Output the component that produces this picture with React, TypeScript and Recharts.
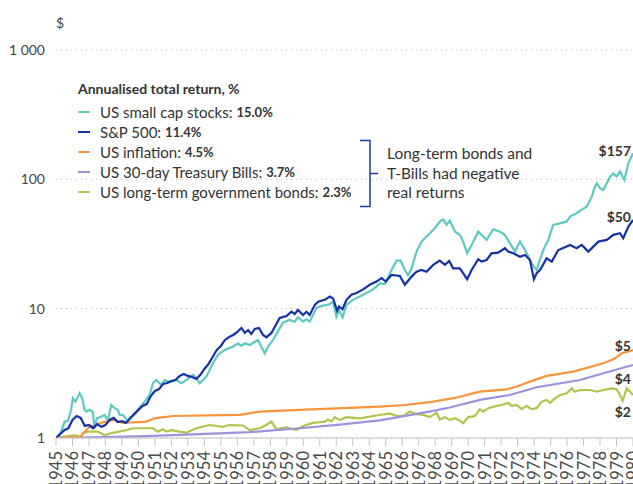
import { CartesianGrid, Line, LineChart, XAxis, YAxis } from 'recharts'

const yearTicks = [
  1945, 1946, 1947, 1948, 1949, 1950, 1951, 1952, 1953, 1954, 1955, 1956, 1957, 1958, 1959, 1960, 1961, 1962,
  1963, 1964, 1965, 1966, 1967, 1968, 1969, 1970, 1971, 1972, 1973, 1974, 1975, 1976, 1977, 1978, 1979, 1980,
]
const valueTicks = [1, 10, 100, 1000]

const smallCapYears = [
  1945.0, 1945.32, 1945.52, 1945.72, 1945.92, 1946.02, 1946.18, 1946.43, 1946.59, 1946.73,
  1946.87, 1947.03, 1947.23, 1947.34, 1947.48, 1947.74, 1947.94, 1948.15, 1948.35, 1948.55,
  1948.75, 1948.86, 1949.06, 1949.36, 1949.87, 1950.37, 1950.68, 1950.88, 1951.08, 1951.39,
  1951.59, 1951.89, 1952.3, 1952.6, 1952.91, 1953.31, 1953.51, 1953.71, 1954.12, 1954.52,
  1954.82, 1955.05, 1955.33, 1955.73, 1956.04, 1956.24, 1956.45, 1956.75, 1957.25, 1957.46,
  1957.66, 1957.86, 1958.16, 1958.77, 1959.18, 1959.48, 1959.68, 1959.98, 1960.19, 1960.39,
  1960.8, 1961.1, 1961.5, 1961.81, 1962.01, 1962.17, 1962.38, 1962.62, 1963.02, 1963.63,
  1964.24, 1964.64, 1964.95, 1965.35, 1965.66, 1965.9, 1966.16, 1966.36, 1966.57, 1966.87,
  1967.17, 1967.48, 1967.98, 1968.28, 1968.48, 1968.69, 1968.89, 1969.2, 1969.5, 1969.7,
  1969.94, 1970.21, 1970.61, 1970.91, 1971.12, 1971.52, 1971.93, 1972.23, 1972.54, 1972.84,
  1973.14, 1973.45, 1973.75, 1973.99, 1974.16, 1974.31, 1974.56, 1974.86, 1975.16, 1975.57,
  1975.98, 1976.18, 1976.58, 1976.79, 1977.19, 1977.5, 1977.64, 1977.8, 1978.0, 1978.2,
  1978.61, 1978.81, 1979.01, 1979.21, 1979.47, 1979.72, 1980.0,
]
const smallCapValues = [
  1.0, 1.12, 1.34, 1.36, 1.65, 2.03, 1.91, 2.22, 2.03, 1.65,
  1.6, 1.65, 1.6, 1.19, 1.42, 1.46, 1.51, 1.38, 1.8, 1.7,
  1.65, 1.51, 1.51, 1.34, 1.6, 1.91, 2.15, 2.65, 2.81, 2.57,
  2.81, 2.72, 2.81, 2.65, 2.81, 3.07, 2.9, 2.65, 2.98, 3.78,
  4.39, 4.62, 4.85, 5.08, 5.4, 5.15, 5.4, 5.24, 5.73, 5.08,
  4.52, 5.08, 5.73, 7.79, 8.18, 7.93, 8.58, 7.93, 8.28, 7.93,
  10.1, 10.5, 10.7, 11.3, 8.67, 9.77, 8.58, 10.7, 11.7, 12.8,
  14.1, 15.7, 15.5, 19.9, 23.5, 23.5, 19.9, 18.2, 20.5, 27.6,
  33.0, 36.1, 41.9, 47.1, 49.1, 44.4, 47.9, 39.4, 37.2, 33.0,
  26.8, 31.1, 39.4, 36.1, 34.0, 41.1, 39.4, 37.2, 32.0, 27.6,
  33.0, 28.4, 23.8, 21.1, 19.9, 23.1, 28.4, 34.0, 44.4, 45.7,
  47.1, 51.5, 54.7, 57.3, 61.5, 73.5, 84.3, 93.3, 85.3, 82.8,
  105, 111, 105, 115, 98.9, 133, 159,
]

const sp500Years = [
  1945.0, 1945.25, 1945.5, 1945.75, 1946.0, 1946.25, 1946.5, 1946.75, 1947.0, 1947.25,
  1947.5, 1947.75, 1948.0, 1948.25, 1948.5, 1948.75, 1949.0, 1949.25, 1949.5, 1949.75,
  1950.0, 1950.25, 1950.5, 1950.75, 1951.0, 1951.25, 1951.5, 1951.75, 1952.0, 1952.25,
  1952.5, 1952.75, 1953.0, 1953.25, 1953.5, 1953.75, 1954.0, 1954.25, 1954.5, 1954.75,
  1955.0, 1955.25, 1955.5, 1955.75, 1956.0, 1956.25, 1956.45, 1956.65, 1956.85, 1957.05,
  1957.31, 1957.56, 1957.76, 1958.07, 1958.33, 1958.57, 1958.98, 1959.28, 1959.48, 1959.68,
  1959.98, 1960.19, 1960.39, 1960.7, 1960.9, 1961.3, 1961.61, 1961.81, 1962.05, 1962.17,
  1962.38, 1962.62, 1962.92, 1963.23, 1963.63, 1964.03, 1964.44, 1964.75, 1965.01, 1965.35,
  1965.86, 1966.16, 1966.57, 1966.87, 1967.17, 1967.48, 1967.88, 1968.28, 1968.59, 1968.85,
  1969.09, 1969.5, 1969.94, 1970.21, 1970.61, 1970.82, 1971.12, 1971.42, 1971.82, 1972.23,
  1972.43, 1972.74, 1973.14, 1973.45, 1973.75, 1973.99, 1974.16, 1974.36, 1974.76, 1975.07,
  1975.47, 1975.87, 1976.18, 1976.58, 1976.89, 1977.29, 1977.9, 1978.41, 1978.81, 1979.21,
  1979.41, 1979.72, 1980.0,
]
const sp500Values = [
  1.0, 1.07, 1.15, 1.19, 1.38, 1.48, 1.43, 1.24, 1.26, 1.19,
  1.28, 1.22, 1.26, 1.38, 1.43, 1.33, 1.35, 1.31, 1.43, 1.53,
  1.65, 1.77, 1.83, 2.11, 2.31, 2.39, 2.62, 2.66, 2.76, 2.81,
  3.02, 3.13, 3.02, 2.96, 2.86, 3.07, 3.42, 3.73, 4.23, 4.79,
  5.15, 5.73, 6.04, 6.26, 6.61, 7.1, 6.49, 6.84, 6.37, 6.97,
  7.1, 6.26, 6.01, 6.49, 7.48, 8.47, 8.78, 9.48, 9.1, 9.77,
  8.94, 9.48, 8.94, 10.7, 11.3, 11.7, 12.4, 12.0, 9.65, 10.4,
  9.89, 11.7, 12.8, 13.2, 14.1, 15.3, 16.2, 17.2, 16.2, 18.2,
  17.9, 15.3, 17.7, 19.3, 19.9, 19.3, 21.8, 23.5, 21.8, 23.4,
  20.5, 20.5, 16.9, 19.9, 24.1, 23.1, 23.8, 26.8, 27.1, 29.3,
  27.6, 26.8, 25.2, 26.0, 23.8, 16.9, 18.8, 19.9, 24.5, 23.1,
  28.4, 29.9, 31.1, 29.3, 31.1, 27.6, 33.0, 34.0, 37.2, 38.3,
  35.0, 43.1, 48.5,
]

const inflationYears = [
  1945.0, 1946.43, 1946.73, 1947.03, 1947.64, 1948.45, 1949.06, 1950.48, 1950.98, 1952.09, 1956.14,
  1957.36, 1959.78, 1964.64, 1966.2, 1967.88, 1969.2, 1970.71, 1972.33, 1972.94, 1973.75, 1974.76,
  1976.38, 1978.2, 1978.81, 1979.32, 1980.0,
]
const inflationValues = [
  1.0, 1.01, 1.11, 1.22, 1.3, 1.38, 1.31, 1.34, 1.42, 1.48, 1.51,
  1.6, 1.65, 1.75, 1.8, 1.91, 2.04, 2.28, 2.38, 2.49, 2.73, 3.02,
  3.26, 3.78, 4.06, 4.52, 4.79,
]

const tBillYears = [
  1945.0, 1950.0, 1953.71, 1956.75, 1959.78, 1962.21, 1964.64, 1967.88, 1968.89, 1970.71, 1972.53,
  1974.16, 1976.79, 1978.2, 1980.0,
]
const tBillValues = [1.0, 1.03, 1.07, 1.11, 1.19, 1.27, 1.37, 1.62, 1.72, 1.97, 2.15, 2.47, 2.81, 3.17, 3.67]

const bondYears = [
  1945.0, 1945.82, 1946.23, 1946.53, 1946.63, 1946.93, 1947.54, 1947.94, 1948.35, 1949.26,
  1949.66, 1950.88, 1951.18, 1951.48, 1951.69, 1951.99, 1952.5, 1952.91, 1953.51, 1954.32,
  1955.13, 1955.53, 1956.34, 1956.75, 1957.36, 1957.76, 1958.07, 1958.37, 1958.98, 1959.58,
  1959.98, 1960.59, 1961.3, 1961.5, 1961.71, 1961.91, 1962.21, 1962.62, 1963.43, 1964.24,
  1965.25, 1965.66, 1966.06, 1966.46, 1966.87, 1967.27, 1967.68, 1968.08, 1968.28, 1968.59,
  1968.89, 1969.2, 1969.5, 1969.7, 1970.0, 1970.41, 1970.71, 1970.92, 1971.22, 1971.73,
  1972.03, 1972.43, 1972.64, 1972.94, 1973.25, 1973.55, 1973.85, 1974.16, 1974.46, 1974.76,
  1974.96, 1975.27, 1975.57, 1975.98, 1976.28, 1976.48, 1976.79, 1977.39, 1977.8, 1978.2,
  1978.71, 1979.01, 1979.21, 1979.37, 1979.62, 1979.82, 1980.0,
]
const bondValues = [
  1.0, 1.04, 1.05, 1.01, 1.09, 1.12, 1.12, 1.05, 1.09, 1.15,
  1.19, 1.19, 1.12, 1.17, 1.12, 1.15, 1.12, 1.1, 1.19, 1.26,
  1.22, 1.26, 1.25, 1.15, 1.19, 1.26, 1.34, 1.17, 1.21, 1.15,
  1.24, 1.31, 1.34, 1.39, 1.34, 1.45, 1.38, 1.45, 1.42, 1.48,
  1.55, 1.48, 1.48, 1.6, 1.53, 1.51, 1.45, 1.57, 1.39, 1.45,
  1.38, 1.42, 1.36, 1.3, 1.45, 1.48, 1.67, 1.6, 1.7, 1.77,
  1.8, 1.87, 1.77, 1.8, 1.67, 1.77, 1.67, 1.7, 1.91, 1.97,
  1.87, 2.03, 2.15, 2.22, 2.42, 2.28, 2.35, 2.35, 2.28, 2.35,
  2.42, 2.38, 2.15, 1.94, 2.42, 2.28, 2.15,
]

const toPoints = (years: number[], values: number[]) => years.map((t, i) => ({ t, v: values[i] }))

// legend order
const series = [
  { name: 'US small cap stocks', ret: '15.0%', color: '#5dc9c2', data: toPoints(smallCapYears, smallCapValues) },
  { name: 'S&P 500', ret: '11.4%', color: '#1432a6', data: toPoints(sp500Years, sp500Values) },
  { name: 'US inflation', ret: '4.5%', color: '#f8943c', data: toPoints(inflationYears, inflationValues) },
  { name: 'US 30-day Treasury Bills', ret: '3.7%', color: '#9b91de', data: toPoints(tBillYears, tBillValues) },
  { name: 'US long-term government bonds', ret: '2.3%', color: '#b3c34b', data: toPoints(bondYears, bondValues) },
]
const drawOrder = [4, 3, 2, 0, 1]

const endLabels = [
  { text: '$157', y: 150 },
  { text: '$50', y: 216 },
  { text: '$5', y: 345 },
  { text: '$4', y: 378 },
  { text: '$2', y: 411 },
]

const fmtValue = (v: number) => (v === 1000 ? '1 000' : String(v))

function YearTick({ x, y, payload }: any) {
  return (
    <text
      x={x}
      y={y}
      transform={`rotate(-90 ${x} ${y})`}
      textAnchor="end"
      dominantBaseline="central"
      fill="#4a4a4a"
      fontSize={16.5}
      fontFamily="Lato, sans-serif"
    >
      {payload.value}
    </text>
  )
}

const textColor = '#333'
const bracketColor = '#1b3aa3'

export default function App() {
  return (
    <div
      style={{
        position: 'absolute',
        left: 0,
        top: 0,
        width: 633,
        height: 484,
        overflow: 'hidden',
        background: '#fff',
        fontFamily: 'Lato, sans-serif',
        color: textColor,
      }}
    >
      <LineChart width={660} height={520} margin={{ top: 50, right: 27, bottom: 0, left: 0 }}>
        <CartesianGrid vertical={false} stroke="#b8b8b8" strokeDasharray="1 4" />
        <XAxis
          type="number"
          dataKey="t"
          domain={[1945, 1980]}
          ticks={yearTicks}
          interval={0}
          height={82}
          tickSize={8}
          tickMargin={5}
          stroke="#c4c4c4"
          tick={(p: any) => <YearTick {...p} />}
          allowDataOverflow
        />
        <YAxis
          type="number"
          scale="log"
          domain={[1, 1000]}
          ticks={valueTicks}
          width={56}
          axisLine={false}
          tickLine={false}
          tickSize={0}
          tickMargin={11}
          tickFormatter={fmtValue}
          tick={{ fontSize: 14, fill: '#444', fontFamily: 'Lato, sans-serif' }}
          allowDataOverflow
        />
        {drawOrder.map((i) => (
          <Line
            key={series[i].name}
            data={series[i].data}
            dataKey="v"
            type="linear"
            stroke={series[i].color}
            strokeWidth={2.2}
            dot={false}
            isAnimationActive={false}
          />
        ))}
      </LineChart>

      <div style={{ position: 'absolute', left: 56, top: 22, transform: 'translateY(-50%)', fontSize: 14, color: '#444' }}>$</div>

      <div style={{ position: 'absolute', left: 78, top: 88, transform: 'translateY(-50%)', fontSize: 14, fontWeight: 700 }}>
        Annualised total return, %
      </div>
      {series.map((s, i) => (
        <div
          key={s.name}
          style={{
            position: 'absolute',
            left: 78,
            top: 111.7 + i * 20,
            transform: 'translateY(-50%)',
            display: 'flex',
            alignItems: 'center',
            whiteSpace: 'nowrap',
            fontSize: 15,
          }}
        >
          <span style={{ display: 'inline-block', width: 12, height: 2, background: s.color, marginRight: 10 }} />
          <span>{s.name}: </span>
          <span style={{ fontWeight: 700, fontSize: 13, marginLeft: 4 }}>{s.ret}</span>
        </div>
      ))}

      <svg style={{ position: 'absolute', left: 0, top: 0 }} width={633} height={484}>
        <path
          d="M360 140.5 H370 V206.5 H360 M370 173.5 H378"
          fill="none"
          stroke={bracketColor}
          strokeWidth={1.5}
        />
      </svg>
      <div style={{ position: 'absolute', left: 387, top: 144, fontSize: 15.5, lineHeight: '19.5px' }}>
        Long-term bonds and
        <br />
        T-Bills had negative
        <br />
        real returns
      </div>

      {endLabels.map((l) => (
        <div
          key={l.text}
          style={{ position: 'absolute', right: 2, top: l.y, transform: 'translateY(-50%)', fontSize: 14, fontWeight: 700 }}
        >
          {l.text}
        </div>
      ))}
    </div>
  )
}
